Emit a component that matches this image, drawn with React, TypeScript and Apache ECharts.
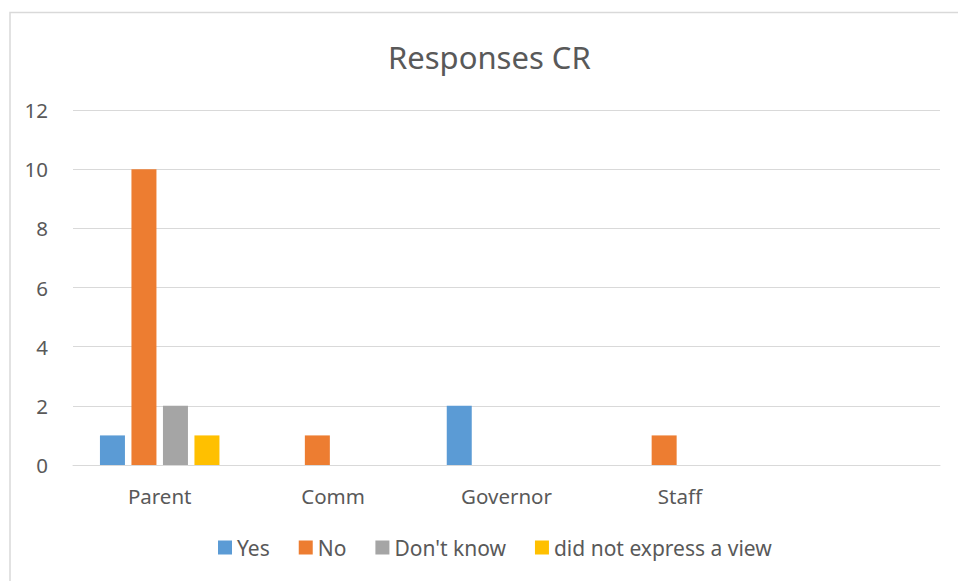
import React, { useEffect, useRef } from "react";
import * as echarts from "echarts";

const categories = ["Parent", "Comm", "Governor", "Staff", ""];
const seriesNames = ["Yes", "No", "Don't know", "did not express a view"];
const yesValues = [1, 0, 2, 0, 0];
const noValues = [10, 1, 0, 1, 0];
const dontKnowValues = [2, 0, 0, 0, 0];
const noViewValues = [1, 0, 0, 0, 0];
const colors = ["#5B9BD5", "#ED7D31", "#A5A5A5", "#FFC000"];

const FONT = "'Noto Sans', 'Open Sans', sans-serif";
const TEXT = "#595959";

export default function App() {
  const ref = useRef<HTMLDivElement>(null);
  useEffect(() => {
    if (!ref.current) return;
    const chart = echarts.init(ref.current, undefined, { renderer: "svg" });
    const all = [yesValues, noValues, dontKnowValues, noViewValues];
    chart.setOption({
      animation: false,
      backgroundColor: "#ffffff",
      title: {
        text: "Responses CR",
        left: 388,
        top: 41,
        padding: 0,
        textStyle: { fontFamily: FONT, fontSize: 31, fontWeight: "normal", color: TEXT },
      },
      graphic: [
        {
          type: "rect",
          shape: { x: 10, y: 12.5, width: 980, height: 620 },
          style: { fill: "none", stroke: "#d9d9d9", lineWidth: 1.5 },
          silent: true,
        },
      ],
      legend: {
        data: seriesNames,
        bottom: 18,
        left: 213,
        itemWidth: 14,
        itemHeight: 14,
        itemGap: 29,
        icon: "rect",
        textStyle: { fontFamily: FONT, fontSize: 21, color: TEXT },
      },
      grid: { left: 73, right: 18, top: 110, bottom: 116, containLabel: false },
      xAxis: {
        type: "category",
        data: categories,
        axisLine: { show: true, lineStyle: { color: "#d9d9d9", width: 1 } },
        axisTick: { show: false },
        axisLabel: { fontFamily: FONT, fontSize: 20.5, color: TEXT, margin: 20 },
      },
      yAxis: {
        type: "value",
        min: 0,
        max: 12,
        interval: 2,
        axisLine: { show: false },
        axisTick: { show: false },
        splitLine: { lineStyle: { color: "#d9d9d9", width: 1 } },
        axisLabel: { fontFamily: FONT, fontSize: 20.5, color: TEXT, margin: 25 },
      },
      series: seriesNames.map((name, i) => ({
        name,
        type: "bar",
        data: all[i].map((v) => (v === 0 ? null : v)),
        barWidth: 25,
        barGap: "26%",
        itemStyle: { color: colors[i] },
      })),
    });
    return () => chart.dispose();
  }, []);
  return (
    <div
      ref={ref}
      style={{ position: "absolute", left: 0, top: 0, width: 958, height: 581 }}
    />
  );
}
